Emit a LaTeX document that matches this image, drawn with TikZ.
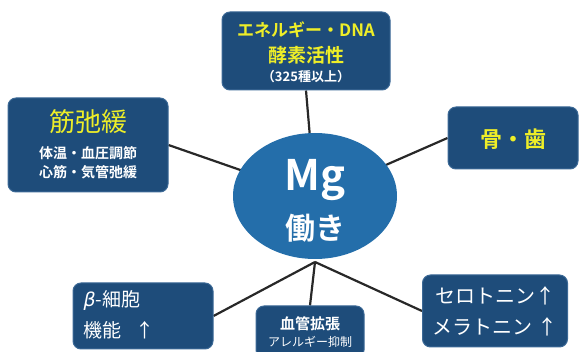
\documentclass[tikz,border=0pt]{standalone}
\usepackage{fontspec}
\setmainfont{Noto Sans CJK JP}
\newfontfamily\jp{Noto Sans CJK JP}
\newfontfamily\jpb{Noto Sans CJK JP}[BoldFont={* Bold}]
\newfontfamily\latin{DejaVu Sans}
\usetikzlibrary{shapes.geometric}
\pgfdeclarelayer{bg}
\pgfsetlayers{bg,main}
\definecolor{boxblue}{RGB}{30,76,122}
\definecolor{boxrim}{RGB}{60,105,150}
\definecolor{ellblue}{RGB}{36,110,170}
\definecolor{txtyellow}{RGB}{238,238,40}
\definecolor{linegray}{RGB}{40,40,40}
\tikzset{
  x=1pt,y=-1pt,
  infobox/.style={draw=boxrim,line width=1pt,fill=boxblue,rounded corners=8pt,align=center,inner sep=0pt},
  connector/.style={draw=linegray,line width=2.2pt},
  ytext/.style={text=txtyellow},
  wtext/.style={text=white}
}
\begin{document}
\begin{tikzpicture}
\useasboundingbox (0,0) rectangle (581,352);
% boxes
\node[infobox,minimum width=168pt,minimum height=78pt] (top) at (306,51) {};
\node[infobox,minimum width=160pt,minimum height=94pt] (left) at (88,145) {};
\node[infobox,minimum width=130pt,minimum height=62pt] (right) at (513,138) {};
\node[infobox,minimum width=140pt,minimum height=66pt] (bl) at (143,316) {};
\node[infobox,minimum width=108pt,minimum height=52pt] (bot) at (310,332) {};
\node[infobox,minimum width=145pt,minimum height=72pt] (br) at (495,311) {};
\coordinate (hub) at (315,262);
\node[ellipse,fill=ellblue,minimum width=164pt,minimum height=126pt,inner sep=0pt] (mg) at (315,196) {};
% connectors behind boxes and ellipse
\begin{pgfonlayer}{bg}
\draw[connector] (mg.center) -- (top.south);
\draw[connector] (mg.center) -- (left.east);
\draw[connector] (mg.center) -- (right.west);
\draw[connector] (hub) -- (bl.east);
\draw[connector] (hub) -- (bot.north);
\draw[connector] (hub) -- (br.west);
\end{pgfonlayer}
% texts
\node[ytext,font=\jpb\bfseries\fontsize{17}{17}\selectfont] (t1) at (306,30) {エネルギー・DNA};
\node[ytext,font=\jpb\bfseries\fontsize{19}{19}\selectfont] (t2) at (306,55) {酵素活性};
\node[wtext,font=\jpb\bfseries\fontsize{13}{13}\selectfont] (t3) at (306,77) {（325種以上）};
\node[ytext,font=\jp\fontsize{26}{26}\selectfont] (l1) at (88,122) {筋弛緩};
\node[wtext,font=\jpb\bfseries\fontsize{14}{14}\selectfont] (l2) at (88,153) {体温・血圧調節};
\node[wtext,font=\jpb\bfseries\fontsize{14}{14}\selectfont] (l3) at (88,172) {心筋・気管弛緩};
\node[ytext,font=\jpb\bfseries\fontsize{22}{22}\selectfont] (r1) at (513,139) {骨・歯};
\node[wtext,font=\jp\fontsize{19}{19}\selectfont,anchor=west] (b1) at (80,300) {\latin\itshape β\jp -細胞};
\node[wtext,font=\jp\fontsize{19}{19}\selectfont,anchor=west] (b2) at (80,330) {機能\hspace{14pt}↑};
\node[wtext,font=\jpb\bfseries\fontsize{15}{15}\selectfont] (m1) at (310,324) {血管拡張};
\node[wtext,font=\jp\fontsize{12}{12}\selectfont] (m2) at (310,342) {アレルギー抑制};
\node[wtext,font=\jp\fontsize{20}{20}\selectfont] (s1) at (495,296) {セロトニン↑};
\node[wtext,font=\jp\fontsize{20}{20}\selectfont] (s2) at (495,327) {メラトニン ↑};
\node[wtext,font=\jpb\bfseries\fontsize{42}{42}\selectfont] (mgt) at (315,180) {Mg};
\node[wtext,font=\jpb\bfseries\fontsize{30}{30}\selectfont] (hat) at (315,228) {働き};
\end{tikzpicture}
\end{document}
